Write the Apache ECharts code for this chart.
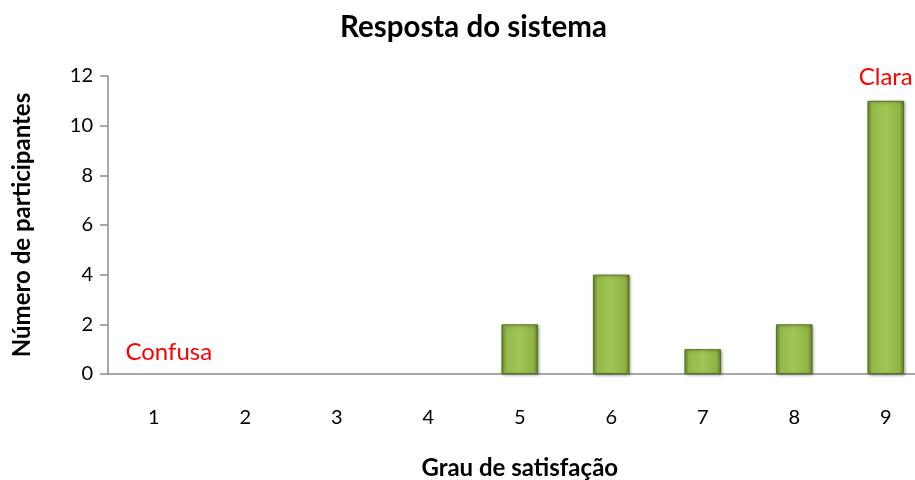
<!DOCTYPE html>
<html>
<head>
<meta charset="utf-8">
<script src="https://cdn.jsdelivr.net/npm/echarts@6/dist/echarts.min.js"></script>
<style>
html,body{margin:0;padding:0;background:#fff;}
#chart{width:915px;height:480px;}
</style>
</head>
<body>
<div id="chart"></div>
<script>
// Satisfaction scores (1-9) and how many participants picked each
const categories = ['1', '2', '3', '4', '5', '6', '7', '8', '9'];
const participants = [0, 0, 0, 0, 2, 4, 1, 2, 11];
const yTicks = [0, 2, 4, 6, 8, 10, 12];
const endLabels = { '1': 'Confusa', '9': 'Clara' };

const FONT = 'Lato, "Open Sans", sans-serif';

const barFill = new echarts.graphic.LinearGradient(0, 0, 1, 0, [
  { offset: 0, color: '#6d8c2e' },
  { offset: 0.12, color: '#94b84a' },
  { offset: 0.5, color: '#a2c655' },
  { offset: 0.88, color: '#8fb245' },
  { offset: 1, color: '#5e7d26' }
]);

const chart = echarts.init(document.getElementById('chart'), null, { renderer: 'canvas' });

chart.setOption({
  animation: false,
  backgroundColor: '#ffffff',
  title: {
    text: 'Resposta do sistema',
    left: 335,
    top: 7,
    textStyle: { fontFamily: FONT, fontSize: 29.5, fontWeight: 'bold', color: '#000' }
  },
  // the last category runs slightly past the right edge of the canvas
  grid: { left: 108, top: 76, right: -16.5, bottom: 106, containLabel: false, outerBoundsMode: 'none' },
  xAxis: {
    type: 'category',
    data: categories,
    name: 'Grau de satisfação',
    nameLocation: 'middle',
    nameGap: 82,
    nameTextStyle: { fontFamily: FONT, fontSize: 24, fontWeight: 'bold', color: '#000' },
    axisLine: { lineStyle: { color: '#8c8c8c', width: 1.5 } },
    axisTick: { show: false },
    axisLabel: { fontFamily: FONT, fontSize: 20, color: '#000', margin: 34 }
  },
  yAxis: {
    type: 'value',
    min: yTicks[0],
    max: yTicks[yTicks.length - 1],
    interval: 2,
    name: 'Número de participantes',
    nameLocation: 'middle',
    nameGap: 74,
    nameTextStyle: { fontFamily: FONT, fontSize: 24, fontWeight: 'bold', color: '#000' },
    axisLine: { show: true, lineStyle: { color: '#8c8c8c', width: 1.5 } },
    axisTick: { show: true, length: 8, lineStyle: { color: '#8c8c8c', width: 1.5 } },
    splitLine: { show: false },
    axisLabel: { fontFamily: FONT, fontSize: 20, color: '#000', margin: 15 }
  },
  series: [{
    type: 'bar',
    barWidth: '40%',
    data: participants.map((v, i) => ({
      value: v,
      itemStyle: v === 0 ? { color: 'rgba(0,0,0,0)', borderWidth: 0, shadowBlur: 0, shadowOffsetX: 0, shadowOffsetY: 0, shadowColor: 'rgba(0,0,0,0)' } : undefined,
      label: endLabels[categories[i]] ? {
        show: true,
        position: 'top',
        formatter: endLabels[categories[i]],
        fontFamily: FONT,
        fontSize: 24,
        color: '#ff0000',
        distance: v === 0 ? 10 : 12,
        offset: v === 0 ? [15, 0] : [0, 0]
      } : { show: false }
    })),
    itemStyle: {
      color: barFill,
      borderColor: '#56731f',
      borderWidth: 1,
      shadowColor: 'rgba(0,0,0,0.35)',
      shadowBlur: 3,
      shadowOffsetX: 1,
      shadowOffsetY: 1
    }
  }]
});
</script>
</body>
</html>
